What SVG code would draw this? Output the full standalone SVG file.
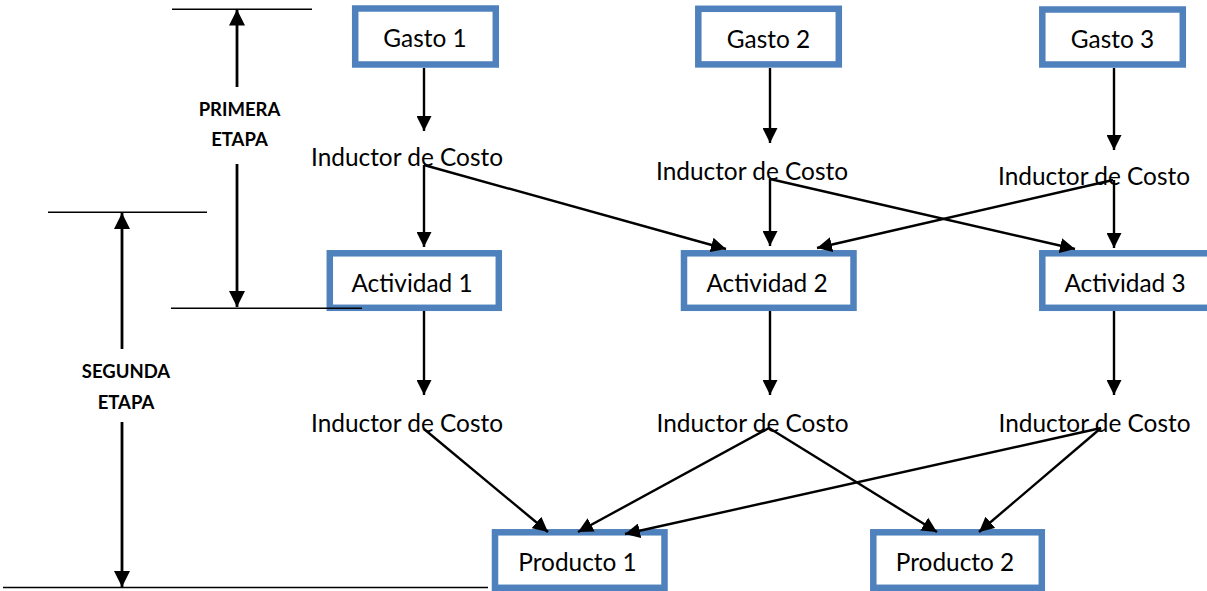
<svg xmlns="http://www.w3.org/2000/svg" width="1207" height="591" viewBox="0 0 1207 591">
  <style>
    .box { fill: #ffffff; stroke: #4f81bd; stroke-width: 6.5; }
    .label { font-family: Lato, "Liberation Sans", sans-serif; font-size: 24.4px; fill: #000000; text-anchor: middle; }
    .stage { font-family: Lato, "Liberation Sans", sans-serif; font-size: 18.5px; font-weight: bold; fill: #000000; text-anchor: middle; }
    .edge { stroke: #000000; stroke-width: 2.4; fill: none; marker-end: url(#head); }
    .guide { stroke: #000000; stroke-width: 1.5; fill: none; }
    .dim { stroke: #000000; stroke-width: 2.8; fill: none; }
  </style>
  <defs>
    <marker id="head" viewBox="0 0 15 15" refX="15" refY="7.5" markerWidth="15" markerHeight="15" markerUnits="userSpaceOnUse" orient="auto">
      <path d="M0,0 L15,7.5 L0,15 Z" fill="#000000"/>
    </marker>
    <marker id="dimhead" viewBox="0 0 16 16" refX="16" refY="8" markerWidth="16" markerHeight="16" markerUnits="userSpaceOnUse" orient="auto">
      <path d="M0,0 L16,8 L0,16 Z" fill="#000000"/>
    </marker>
  </defs>

  <rect width="1207" height="591" fill="#ffffff"/>

  <!-- Cost pools -->
  <g id="gasto1">
    <rect class="box" x="355.2" y="8.5" width="140.6" height="56"/>
    <text class="label" x="425" y="47">Gasto 1</text>
  </g>
  <g id="gasto2">
    <rect class="box" x="698.3" y="8.8" width="140.5" height="55.6"/>
    <text class="label" x="768.5" y="47.5">Gasto 2</text>
  </g>
  <g id="gasto3">
    <rect class="box" x="1042.3" y="9.5" width="140.5" height="55"/>
    <text class="label" x="1112.5" y="47.5">Gasto 3</text>
  </g>

  <!-- First-stage cost drivers -->
  <g id="inductor-g1">
    <text class="label" x="407" y="166">Inductor de Costo</text>
  </g>
  <g id="inductor-g2">
    <text class="label" x="752" y="180">Inductor de Costo</text>
  </g>
  <g id="inductor-g3">
    <text class="label" x="1094" y="185">Inductor de Costo</text>
  </g>

  <!-- Activities -->
  <g id="actividad1">
    <rect class="box" x="329.8" y="253.3" width="169" height="54.5"/>
    <text class="label" x="412" y="291.5">Actividad 1</text>
  </g>
  <g id="actividad2">
    <rect class="box" x="684" y="253.3" width="169.5" height="54.5"/>
    <text class="label" x="767" y="291.5">Actividad 2</text>
  </g>
  <g id="actividad3">
    <rect class="box" x="1042.3" y="253.3" width="175" height="54.5"/>
    <text class="label" x="1125" y="291.5">Actividad 3</text>
  </g>

  <!-- Second-stage cost drivers -->
  <g id="inductor-a1">
    <text class="label" x="407" y="431.5">Inductor de Costo</text>
  </g>
  <g id="inductor-a2">
    <text class="label" x="752.5" y="431.5">Inductor de Costo</text>
  </g>
  <g id="inductor-a3">
    <text class="label" x="1094.5" y="431.5">Inductor de Costo</text>
  </g>

  <!-- Products -->
  <g id="producto1">
    <rect class="box" x="495" y="532.3" width="169.5" height="55.5"/>
    <text class="label" x="577.5" y="570.5">Producto 1</text>
  </g>
  <g id="producto2">
    <rect class="box" x="873.3" y="532.3" width="168.5" height="55.5"/>
    <text class="label" x="955" y="570.5">Producto 2</text>
  </g>

  <!-- Connectors -->
  <g id="connectors">
    <line class="edge" x1="424" y1="68" x2="424" y2="131"/>
    <line class="edge" x1="770" y1="68" x2="770" y2="143"/>
    <line class="edge" x1="1114" y1="68" x2="1114" y2="150"/>

    <line class="edge" x1="424" y1="165" x2="424" y2="247"/>
    <line class="edge" x1="424" y1="165" x2="726" y2="249"/>
    <line class="edge" x1="770" y1="179" x2="770" y2="246"/>
    <line class="edge" x1="770" y1="179" x2="1075" y2="249"/>
    <line class="edge" x1="1114" y1="180" x2="1114" y2="248"/>
    <line class="edge" x1="1113" y1="180" x2="817" y2="248"/>

    <line class="edge" x1="424" y1="311" x2="424" y2="395"/>
    <line class="edge" x1="770" y1="311" x2="770" y2="395"/>
    <line class="edge" x1="1114" y1="311" x2="1114" y2="395"/>

    <line class="edge" x1="424" y1="429" x2="548" y2="532"/>
    <line class="edge" x1="769" y1="428" x2="578" y2="532"/>
    <line class="edge" x1="769" y1="428" x2="937" y2="532"/>
    <line class="edge" x1="1101" y1="428" x2="625" y2="534"/>
    <line class="edge" x1="1101" y1="428" x2="979" y2="532"/>
  </g>

  <!-- Stage brackets -->
  <g id="primera-etapa">
    <line class="guide" x1="172" y1="9.3" x2="312" y2="9.3"/>
    <line class="guide" x1="171" y1="308.3" x2="362" y2="308.3"/>
    <line class="dim" x1="237" y1="87" x2="237" y2="9.5" marker-end="url(#dimhead)"/>
    <line class="dim" x1="237" y1="164" x2="237" y2="307" marker-end="url(#dimhead)"/>
    <text class="stage" x="239.5" y="116">PRIMERA</text>
    <text class="stage" x="239.5" y="145.5">ETAPA</text>
  </g>
  <g id="segunda-etapa">
    <line class="guide" x1="48" y1="212.3" x2="207" y2="212.3"/>
    <line class="guide" x1="3" y1="587.5" x2="488" y2="587.5"/>
    <line class="dim" x1="122" y1="349" x2="122" y2="213" marker-end="url(#dimhead)"/>
    <line class="dim" x1="122" y1="422" x2="122" y2="587" marker-end="url(#dimhead)"/>
    <text class="stage" x="126" y="378">SEGUNDA</text>
    <text class="stage" x="126" y="409">ETAPA</text>
  </g>
</svg>
